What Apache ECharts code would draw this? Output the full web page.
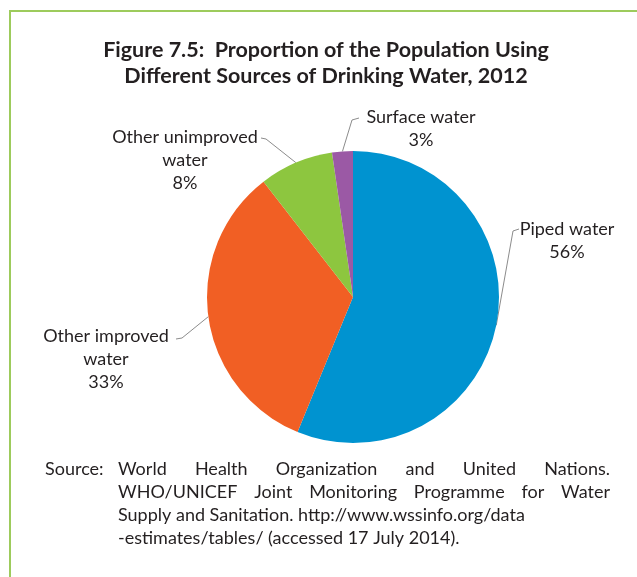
<!DOCTYPE html>
<html>
<head>
<meta charset="utf-8">
<script src="https://cdn.jsdelivr.net/npm/echarts@6/dist/echarts.min.js"></script>
<style>
html,body{margin:0;padding:0;background:#fff;}
#chart{width:637px;height:577px;}
</style>
</head>
<body>
<div id="chart"></div>
<script>
// ---- data ----
const categories = ['Piped water', 'Other improved\nwater', 'Other unimproved\nwater', 'Surface water'];
const values = [56.2, 33.3, 8.2, 2.3];
const pctLabels = ['56%', '33%', '8%', '3%'];
const titleLines = ['Figure 7.5:  Proportion of the Population Using', 'Different Sources of Drinking Water, 2012'];
const sourceLabel = 'Source:';
const sourceLines = [
  'World Health Organization and United Nations.',
  'WHO/UNICEF Joint Monitoring Programme for Water',
  'Supply and Sanitation. http://www.wssinfo.org/data',
  '-estimates/tables/ (accessed 17 July 2014).'
];
const justifyLine = [true, true, false, false];

// ---- styles ----
const colors = ['#0093d0', '#f15f24', '#8dc63f', '#9b59a5'];
const FONT = 'Lato';
const TXT = '#231f20';
const labelFontSize = 18;
const srcFontSize = 18;
const titleFontSize = 21.5;
const labelCfg = [
  {x: 567, y: 218, mid: [513, 231], end: [519, 229]},
  {x: 106, y: 325, mid: [182, 338], end: [176, 339]},
  {x: 185, y: 126, mid: [266, 139], end: [261, 138]},
  {x: 421, y: 106, mid: [352, 120], end: [359, 118]}
];

const chart = echarts.init(document.getElementById('chart'), null, {renderer: 'canvas'});

// measure text for justification
const mctx = document.createElement('canvas').getContext('2d');
mctx.font = srcFontSize + 'px ' + FONT;

const graphics = [];
graphics.push({
  type: 'rect', shape: {x: 10, y: 11, width: 700, height: 700},
  style: {fill: 'none', stroke: '#9dcb5c', lineWidth: 2}, silent: true
});
titleLines.forEach((t, i) => {
  graphics.push({
    type: 'text', x: 326, y: 50 + i * 26,
    style: {text: t, fill: TXT, font: 'bold ' + titleFontSize + 'px ' + FONT, textAlign: 'center', textVerticalAlign: 'middle'}
  });
});
graphics.push({
  type: 'text', x: 45, y: 469,
  style: {text: sourceLabel, fill: TXT, font: srcFontSize + 'px ' + FONT, textAlign: 'left', textVerticalAlign: 'middle'}
});
const srcLeft = 118, srcRight = 610;
sourceLines.forEach((line, i) => {
  const y = 469 + i * 23;
  if (justifyLine[i]) {
    const words = line.split(' ');
    const widths = words.map(w => mctx.measureText(w).width);
    const total = widths.reduce((a, b) => a + b, 0);
    const gap = (srcRight - srcLeft - total) / (words.length - 1);
    let x = srcLeft;
    words.forEach((w, k) => {
      graphics.push({
        type: 'text', x: x, y: y,
        style: {text: w, fill: TXT, font: srcFontSize + 'px ' + FONT, textAlign: 'left', textVerticalAlign: 'middle'}
      });
      x += widths[k] + gap;
    });
  } else {
    graphics.push({
      type: 'text', x: srcLeft, y: y,
      style: {text: line, fill: TXT, font: srcFontSize + 'px ' + FONT, textAlign: 'left', textVerticalAlign: 'middle'}
    });
  }
});

chart.setOption({
  animation: false,
  backgroundColor: '#ffffff',
  color: colors,
  graphic: graphics,
  series: [{
    type: 'pie',
    center: [353, 297],
    radius: 146,
    startAngle: 90,
    clockwise: true,
    avoidLabelOverlap: false,
    itemStyle: {borderWidth: 0},
    data: categories.map((c, i) => ({name: c, value: values[i]})),
    label: {
      show: true,
      position: 'outside',
      formatter: p => categories[p.dataIndex] + '\n' + pctLabels[p.dataIndex],
      fontFamily: FONT,
      fontSize: labelFontSize,
      lineHeight: 23,
      color: TXT,
      align: 'center'
    },
    labelLine: {
      show: true, length: 10, length2: 10,
      lineStyle: {color: '#8c8c8c', width: 1}
    },
    labelLayout: function (params) {
      const c = labelCfg[params.dataIndex];
      const out = {x: c.x, y: c.y, align: 'center', verticalAlign: 'top'};
      if (params.labelLinePoints) {
        out.labelLinePoints = [params.labelLinePoints[0], c.mid, c.end];
      }
      return out;
    },
    emphasis: {disabled: true}
  }]
});
</script>
</body>
</html>
